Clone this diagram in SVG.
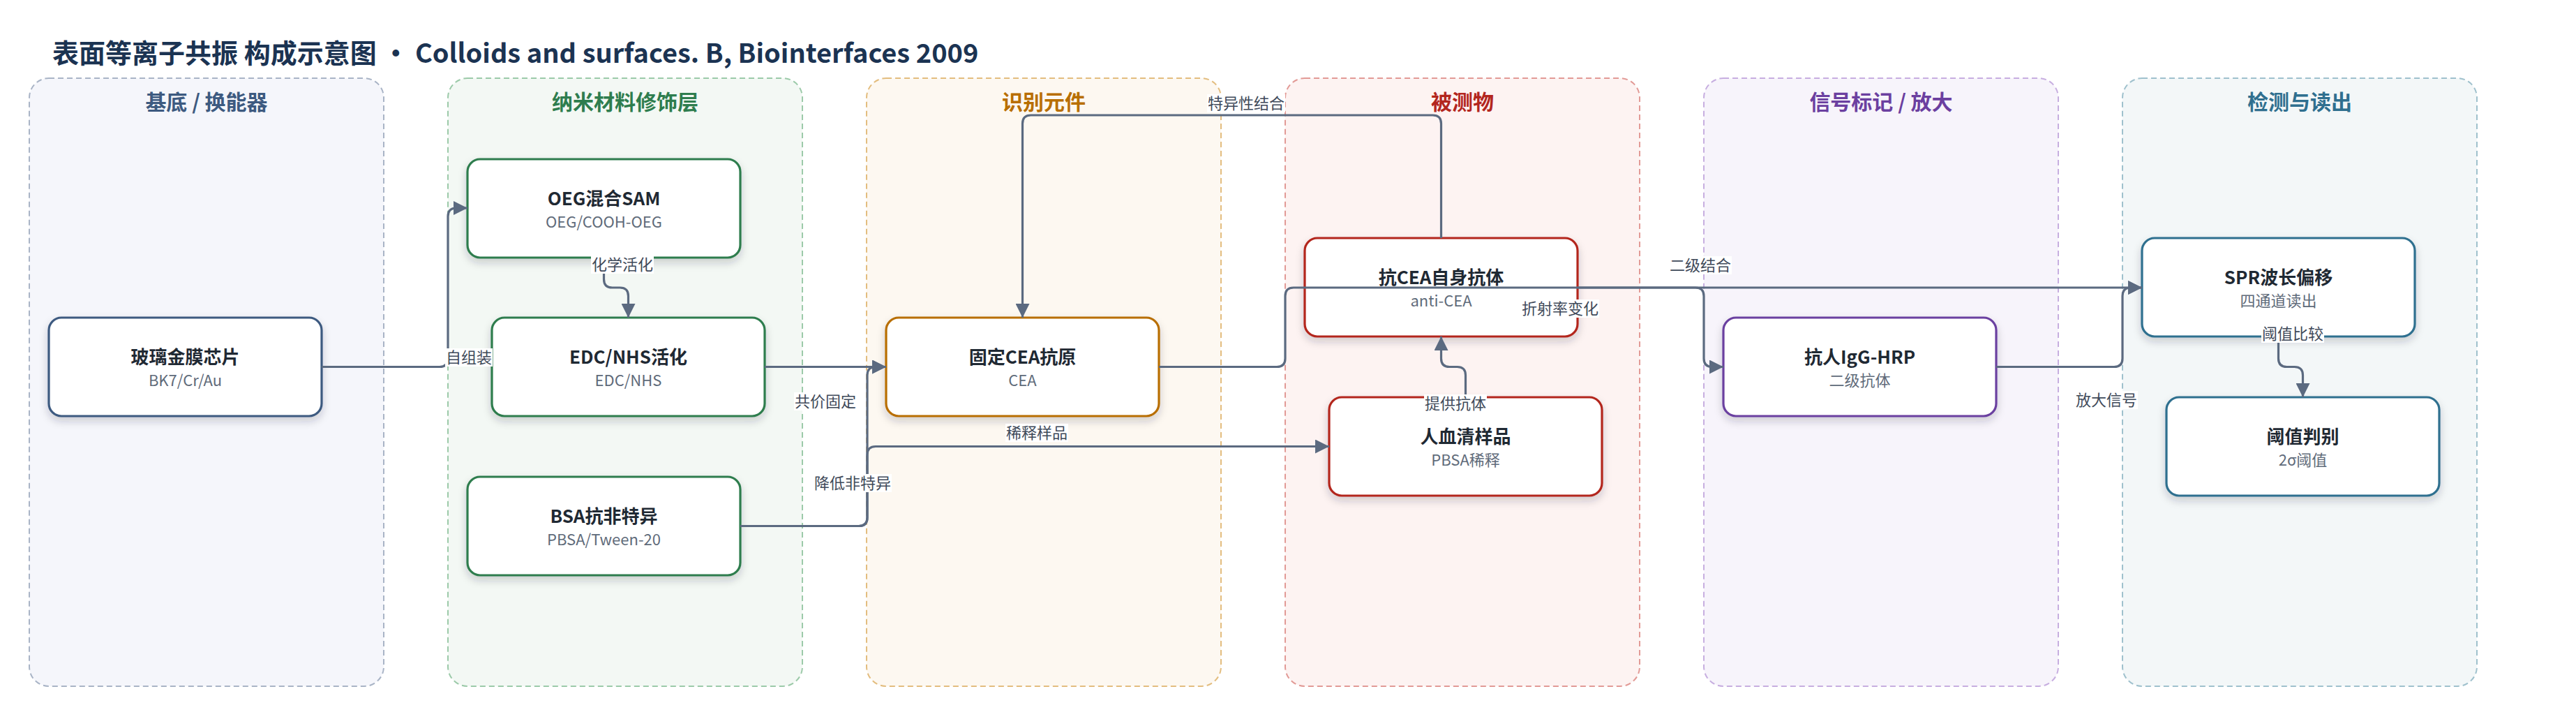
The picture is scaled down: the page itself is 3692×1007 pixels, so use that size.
<svg xmlns="http://www.w3.org/2000/svg" width="3692" height="1007" viewBox="0 0 3692 1007">
<defs>
<filter id="sh" x="-10%" y="-15%" width="120%" height="145%">
<feDropShadow dx="0" dy="6" stdDeviation="6" flood-color="#1e293b" flood-opacity="0.2"/>
</filter>
<marker id="ar" viewBox="0 0 20 20" markerWidth="20" markerHeight="20" refX="20" refY="10" orient="auto" markerUnits="userSpaceOnUse">
<path d="M0,0 L20,10 L0,20 Z" fill="#5b6a80"/>
</marker>
<style>
text{font-family:"Noto Sans CJK SC","Noto Sans",sans-serif}
.lane{stroke-width:2;stroke-dasharray:8 5}
.lt{font-size:30px;font-weight:700;text-anchor:middle}
.node{fill:#fff;stroke-width:3.2;filter:url(#sh)}
.nt{font-size:26px;font-weight:700;fill:#1f2933;text-anchor:middle}
.ns{font-size:22px;fill:#5f6b7a;text-anchor:middle}
.e{fill:none;stroke:#5b6a80;stroke-width:3.2}
.lb{fill:#fff}
.lx{font-size:22px;fill:#3f4a5a;text-anchor:middle}
</style>
</defs>
<rect width="3692" height="1007" fill="#fff"/>
<text x="75" y="90" font-size="38" font-weight="700" fill="#1b3352">表面等离子共振 构成示意图 · Colloids and surfaces. B, Biointerfaces 2009</text>

<g id="lanes">
<g id="lane1"><rect class="lane" x="42" y="112" width="508" height="871" rx="28" fill="#f5f6fb" stroke="#a9b4c6"/><text class="lt" x="296" y="157" fill="#3d5a80">基底 / 换能器</text></g>
<g id="lane2"><rect class="lane" x="642" y="112" width="508" height="871" rx="28" fill="#f3f8f4" stroke="#9ccaa9"/><text class="lt" x="896" y="157" fill="#2e7d4e">纳米材料修饰层</text></g>
<g id="lane3"><rect class="lane" x="1242" y="112" width="508" height="871" rx="28" fill="#fdf8f1" stroke="#e3bd7f"/><text class="lt" x="1496" y="157" fill="#b86e00">识别元件</text></g>
<g id="lane4"><rect class="lane" x="1842" y="112" width="508" height="871" rx="28" fill="#fdf3f2" stroke="#e29a96"/><text class="lt" x="2096" y="157" fill="#b3261e">被测物</text></g>
<g id="lane5"><rect class="lane" x="2442" y="112" width="508" height="871" rx="28" fill="#f7f4fb" stroke="#c7aee0"/><text class="lt" x="2696" y="157" fill="#6b3fa0">信号标记 / 放大</text></g>
<g id="lane6"><rect class="lane" x="3042" y="112" width="508" height="871" rx="28" fill="#f3f7f8" stroke="#9fc1cd"/><text class="lt" x="3296" y="157" fill="#2f6f8f">检测与读出</text></g>
</g>

<g id="n1"><rect class="node" x="70" y="455" width="391" height="141" rx="18" stroke="#3d5a80"/><text class="nt" x="265.5" y="521">玻璃金膜芯片</text><text class="ns" x="265.5" y="553">BK7/Cr/Au</text></g>
<g id="n2"><rect class="node" x="670" y="228" width="391" height="141" rx="18" stroke="#2e7d4e"/><text class="nt" x="865.5" y="294">OEG混合SAM</text><text class="ns" x="865.5" y="326">OEG/COOH-OEG</text></g>
<g id="n3"><rect class="node" x="705" y="455" width="391" height="141" rx="18" stroke="#2e7d4e"/><text class="nt" x="900.5" y="521">EDC/NHS活化</text><text class="ns" x="900.5" y="553">EDC/NHS</text></g>
<g id="n4"><rect class="node" x="670" y="683" width="391" height="141" rx="18" stroke="#2e7d4e"/><text class="nt" x="865.5" y="749">BSA抗非特异</text><text class="ns" x="865.5" y="781">PBSA/Tween-20</text></g>
<g id="n5"><rect class="node" x="1270" y="455" width="391" height="141" rx="18" stroke="#b86e00"/><text class="nt" x="1465.5" y="521">固定CEA抗原</text><text class="ns" x="1465.5" y="553">CEA</text></g>
<g id="n6"><rect class="node" x="1870" y="341" width="391" height="141" rx="18" stroke="#b3261e"/><text class="nt" x="2065.5" y="407">抗CEA自身抗体</text><text class="ns" x="2065.5" y="439">anti-CEA</text></g>
<g id="n7"><rect class="node" x="1905" y="569" width="391" height="141" rx="18" stroke="#b3261e"/><text class="nt" x="2100.5" y="635">人血清样品</text><text class="ns" x="2100.5" y="667">PBSA稀释</text></g>
<g id="n8"><rect class="node" x="2470" y="455" width="391" height="141" rx="18" stroke="#6b3fa0"/><text class="nt" x="2665.5" y="521">抗人IgG-HRP</text><text class="ns" x="2665.5" y="553">二级抗体</text></g>
<g id="n9"><rect class="node" x="3070" y="341" width="391" height="141" rx="18" stroke="#2f6f8f"/><text class="nt" x="3265.5" y="407">SPR波长偏移</text><text class="ns" x="3265.5" y="439">四通道读出</text></g>
<g id="n10"><rect class="node" x="3105" y="569" width="391" height="141" rx="18" stroke="#2f6f8f"/><text class="nt" x="3300.5" y="635">阈值判别</text><text class="ns" x="3300.5" y="667">2σ阈值</text></g>

<g id="connectors">
<path class="e" marker-end="url(#ar)" d="M461,525.5 H630 Q642,525.5 642,513.5 V310 Q642,298 654,298 H670"/>
<path class="e" marker-end="url(#ar)" d="M865.5,369 V400 Q865.5,412 877.5,412 H888.5 Q900.5,412 900.5,424 V455"/>
<path class="e" marker-end="url(#ar)" d="M1096,525.5 H1270"/>
<path class="e" marker-end="url(#ar)" d="M1061,753.5 H1231 Q1243,753.5 1243,741.5 V537.5 Q1243,525.5 1255,525.5 H1270"/>
<path class="e" marker-end="url(#ar)" d="M1061,753.5 H1231 Q1243,753.5 1243,741.5 V651.5 Q1243,639.5 1255,639.5 H1905"/>
<path class="e" marker-end="url(#ar)" d="M2065.5,341 V177 Q2065.5,165 2053.5,165 H1477.5 Q1465.5,165 1465.5,177 V455"/>
<path class="e" marker-end="url(#ar)" d="M2100.5,569 V537.5 Q2100.5,525.5 2088.5,525.5 H2077.5 Q2065.5,525.5 2065.5,513.5 V482"/>
<path class="e" marker-end="url(#ar)" d="M1661,525.5 H1830 Q1842,525.5 1842,513.5 V424 Q1842,412 1854,412 H3070"/>
<path class="e" marker-end="url(#ar)" d="M2261,412 H2430 Q2442,412 2442,424 V513.5 Q2442,525.5 2454,525.5 H2470"/>
<path class="e" marker-end="url(#ar)" d="M2861,525.5 H3030 Q3042,525.5 3042,513.5 V424 Q3042,412 3054,412 H3070"/>
<path class="e" marker-end="url(#ar)" d="M3265.5,482 V513.5 Q3265.5,525.5 3277.5,525.5 H3288.5 Q3300.5,525.5 3300.5,537.5 V569"/>
<g id="labels">
<rect class="lb" x="638" y="499" width="68" height="26"/><text class="lx" x="672" y="520">自组装</text>
<rect class="lb" x="847" y="366" width="90" height="26"/><text class="lx" x="892" y="387">化学活化</text>
<rect class="lb" x="1138" y="562" width="90" height="26"/><text class="lx" x="1183" y="583">共价固定</text>
<rect class="lb" x="1166" y="679" width="112" height="26"/><text class="lx" x="1222" y="700">降低非特异</text>
<rect class="lb" x="1441" y="607" width="90" height="26"/><text class="lx" x="1486" y="628">稀释样品</text>
<rect class="lb" x="1730" y="135" width="112" height="26"/><text class="lx" x="1786" y="156">特异性结合</text>
<rect class="lb" x="2041" y="565" width="90" height="26"/><text class="lx" x="2086" y="586">提供抗体</text>
<rect class="lb" x="2180" y="429" width="112" height="26"/><text class="lx" x="2236" y="450">折射率变化</text>
<rect class="lb" x="2392" y="367" width="90" height="26"/><text class="lx" x="2437" y="388">二级结合</text>
<rect class="lb" x="2974" y="560" width="90" height="26"/><text class="lx" x="3019" y="581">放大信号</text>
<rect class="lb" x="3241" y="465" width="90" height="26"/><text class="lx" x="3286" y="486">阈值比较</text>
</g>
</g>
</svg>
